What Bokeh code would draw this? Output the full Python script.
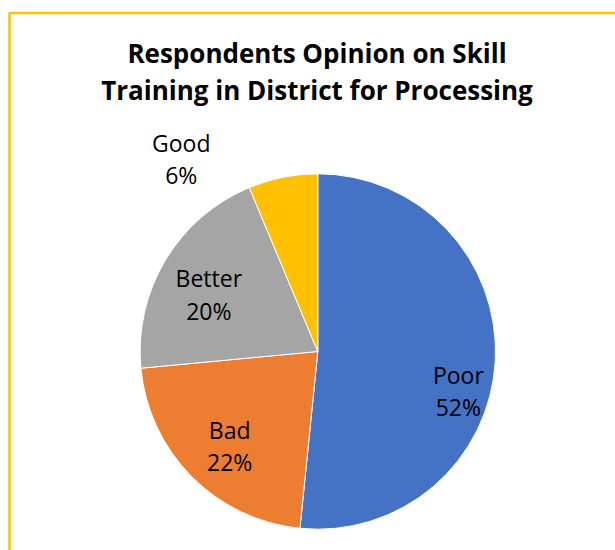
import math
from bokeh.plotting import figure
from bokeh.models import Range1d, ColumnDataSource
from bokeh.core.properties import value
from bokeh.embed import file_html
from bokeh.resources import INLINE

# ---- data ----
categories = ["Poor", "Bad", "Better", "Good"]
shares = [51.6, 21.9, 20.2, 6.3]
colors = ["#4472C4", "#ED7D31", "#A5A5A5", "#FFC000"]
title_lines = ["Respondents Opinion on Skill", "Training in District for Processing"]

# label placement (angle clockwise from 12 o'clock in degrees, radius fraction)
label_angle = [106.3, 222.4, 296.8, 324.4]
label_frac = [0.824, 0.735, 0.687, 1.32]

W, H = 615, 550
p = figure(width=W, height=H, x_range=Range1d(0, W), y_range=Range1d(0, H),
           output_backend="svg", toolbar_location=None,
           x_axis_type=None, y_axis_type=None, min_border=0,
           min_border_left=0, min_border_right=0, min_border_top=0, min_border_bottom=0)
p.grid.visible = False
p.outline_line_color = None
p.background_fill_color = "white"
p.border_fill_color = "white"

# chart frame border (gold), extending past the window on right/bottom
p.quad(left=[9], right=[W + 50], top=[H - 12.5], bottom=[-50],
       fill_color=None, line_color="#FFC000", line_width=2.5)

cx, cy, r = 317.3, H - 351.0, 177.7
total = sum(shares)
cum = 0.0
starts, ends = [], []
for s in shares:
    starts.append(math.pi / 2 - 2 * math.pi * cum / total)
    cum += s
    ends.append(math.pi / 2 - 2 * math.pi * cum / total)

src = ColumnDataSource(dict(cat=categories, start=starts, end=ends, color=colors))
p.wedge(x=cx, y=cy, radius=r, start_angle="start", end_angle="end",
        direction="clock", fill_color="color", line_color="white",
        line_width=1, source=src)

# data labels
lx, ly1, ly2, t1, t2 = [], [], [], [], []
for cat, s, a, f in zip(categories, shares, label_angle, label_frac):
    th = math.radians(a)
    mx = cx + r * f * math.sin(th)
    my = cy + r * f * math.cos(th)
    lx.append(mx)
    ly1.append(my + 18)
    ly2.append(my - 14.5)
    t1.append(cat)
    t2.append(f"{round(s / total * 100)}%")

lab = ColumnDataSource(dict(x=lx + lx, y=ly1 + ly2, t=t1 + t2))
p.text(x="x", y="y", text="t", source=lab, text_align="center",
       text_baseline="alphabetic", text_font=value("Open Sans"),
       text_font_size="23px", text_color="#000000")

# title
p.text(x=[316.5, 316.5], y=[H - 52, H - 89], text=title_lines,
       text_align="center", text_baseline="alphabetic",
       text_font=value("Open Sans"), text_font_style="bold",
       text_font_size="26px", text_color="#000000")

open("out.html", "w").write(file_html(p, INLINE))
